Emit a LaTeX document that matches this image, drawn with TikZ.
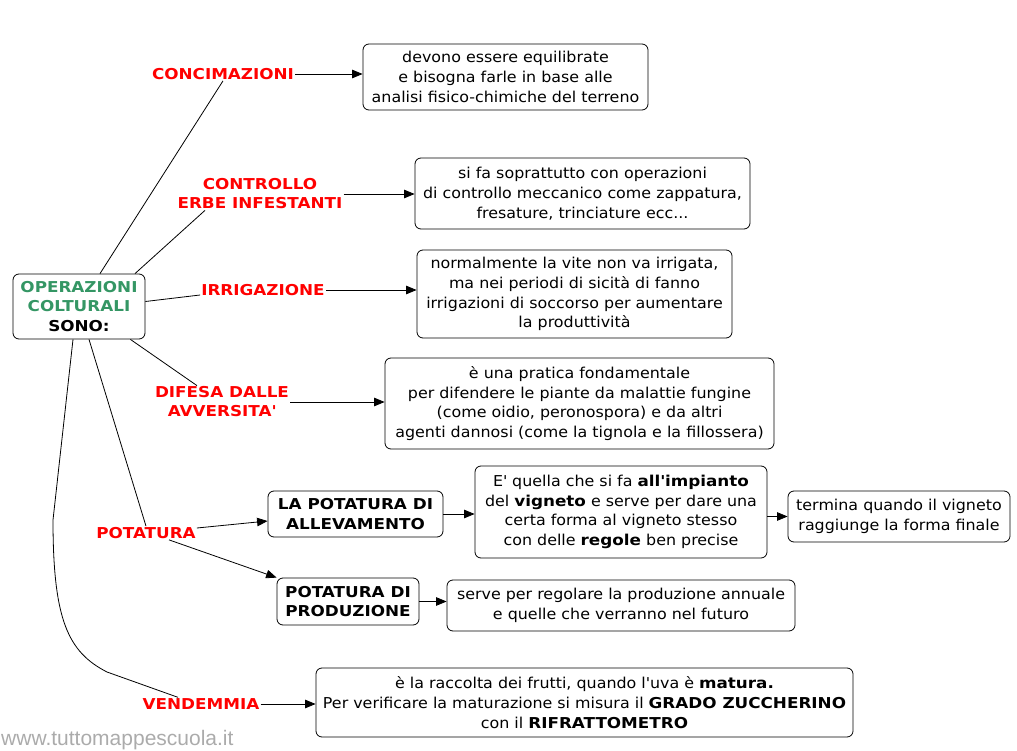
\documentclass[tikz,border=0pt]{standalone}
\usepackage{fontspec}
\setmainfont{DejaVu Sans}[FakeStretch=1.06, BoldFeatures={FakeStretch=1.12}]
\newfontfamily\wmfont{Liberation Sans}
\usetikzlibrary{arrows.meta}
\definecolor{opgreen}{RGB}{52,150,100}
\definecolor{lblred}{RGB}{255,0,0}
\def\ap{\textquotesingle}
\tikzset{
	txt/.style={font=\fontsize{15}{19.8}\selectfont, align=center},
	box/.style={txt, draw, rounded corners=6pt, line width=0.8pt, inner sep=2pt},
	lbl/.style={txt, font=\fontsize{15}{19}\selectfont\bfseries, text=lblred, inner sep=1pt},
	link/.style={line width=0.8pt},
	arr/.style={line width=0.8pt, -{Triangle[length=10.5pt,width=8.5pt]}}
}

\begin{document}
\begin{tikzpicture}[x=1pt, y=-1pt]
		%%%%% START %%%%%
		\useasboundingbox (0,0) rectangle (1017,751);
		
		\node[box, minimum width=132, minimum height=65] (main) at (79,306.5)
			{\bfseries\textcolor{opgreen}{OPERAZIONI}\\ \bfseries\textcolor{opgreen}{COLTURALI}\\ \bfseries SONO:};
		
		\node[lbl] (concim) at (223,74) {CONCIMAZIONI};
		\node[lbl] (controllo) at (260,194) {CONTROLLO\\ERBE INFESTANTI};
		\node[lbl] (irrig) at (263,290) {IRRIGAZIONE};
		\node[lbl] (difesa) at (222,402) {DIFESA DALLE\\AVVERSITA\ap};
		\node[lbl] (potatura) at (146,533) {POTATURA};
		\node[lbl] (vendemmia) at (201,704) {VENDEMMIA};
		
		\node[box, minimum width=285, minimum height=66] (equil) at (505.5,77)
			{devono essere equilibrate\\ e bisogna farle in base alle\\ analisi fisico-chimiche del terreno};
		\node[box, minimum width=335, minimum height=71] (meccan) at (582.5,193.5)
			{si fa soprattutto con operazioni\\ di controllo meccanico come zappatura,\\ fresature, trinciature ecc...};
		\node[box, minimum width=315, minimum height=88] (soccorso) at (574.5,294)
			{normalmente la vite non va irrigata,\\ ma nei periodi di sicità di fanno\\ irrigazioni di soccorso per aumentare\\ la produttività};
		\node[box, minimum width=389, minimum height=91] (pratica) at (579.5,403.5)
			{è una pratica fondamentale\\ per difendere le piante da malattie fungine\\ (come oidio, peronospora) e da altri\\ agenti dannosi (come la tignola e la fillossera)};
		
		\node[box, minimum width=175, minimum height=46] (alleva) at (355.5,514)
			{\bfseries LA POTATURA DI\\ \bfseries ALLEVAMENTO};
		\node[box, minimum width=292, minimum height=92] (impianto) at (621,512)
			{E\ap{} quella che si fa \textbf{all\ap impianto}\\ del \textbf{vigneto} e serve per dare una\\ certa forma al vigneto stesso\\ con delle \textbf{regole} ben precise};
		\node[box, minimum width=222, minimum height=51] (finale) at (899,516.5)
			{termina quando il vigneto\\ raggiunge la forma finale};
		\node[box, minimum width=142, minimum height=47] (produz) at (348,601.5)
			{\bfseries POTATURA DI\\ \bfseries PRODUZIONE};
		\node[box, minimum width=348, minimum height=51] (annuale) at (621,605.5)
			{serve per regolare la produzione annuale\\ e quelle che verranno nel futuro};
		\node[box, minimum width=537, minimum height=69] (raccolta) at (584.5,702.5)
			{è la raccolta dei frutti, quando l\ap uva è \textbf{matura.}\\ Per verificare la maturazione si misura il \textbf{GRADO ZUCCHERINO}\\ con il \textbf{RIFRATTOMETRO}};
		
		% rami dal nodo centrale
		\draw[link] ([xshift=21pt]main.north) -- (concim.south);
		\draw[link] ([xshift=56pt]main.north) -- ([xshift=-55pt]controllo.south);
		\draw[link] ([yshift=5pt]main.east) -- ([yshift=-5pt]irrig.west);
		\draw[link] ([xshift=-15pt]main.south east) -- ([xshift=-25pt]difesa.north);
		\draw[link] ([xshift=10pt]main.south) -- (potatura.north);
		\draw[link] ([xshift=-6pt]main.south) -- (53,520) .. controls (53,620) and (68,652) .. (107,672) -- ([xshift=-23pt]vendemmia.north);
		
		% frecce verso le spiegazioni
		\draw[arr] (concim.east) -- (concim.east -| equil.west);
		\draw[arr] (controllo.east) -- (controllo.east -| meccan.west);
		\draw[arr] (irrig.east) -- (irrig.east -| soccorso.west);
		\draw[arr] (difesa.east) -- (difesa.east -| pratica.west);
		\draw[arr] ([yshift=5pt]potatura.east) -- ([yshift=-7pt]alleva.west);
		\draw[arr] ([xshift=23pt]potatura.south) -- (produz.north west);
		\draw[arr] (alleva.east) -- (alleva.east -| impianto.west);
		\draw[arr] (impianto.east |- finale.west) -- (finale.west);
		\draw[arr] (produz.east) -- (produz.east -| annuale.west);
		\draw[arr] (vendemmia.east) -- (vendemmia.east -| raccolta.west);
		
		\node[anchor=west, text=black!33, font=\wmfont\fontsize{21}{21}\selectfont, inner sep=1pt] (sito) at (0,740) {www.tuttomappescuola.it};
		
		%%%%% END %%%%%
	\end{tikzpicture}
\end{document}
